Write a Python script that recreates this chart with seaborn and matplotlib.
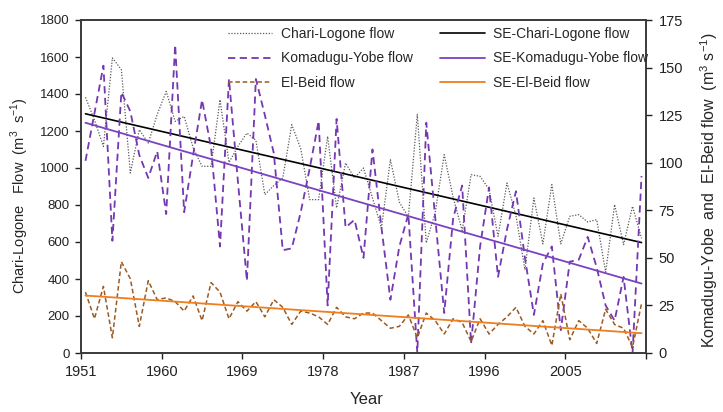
import numpy as np
import matplotlib
matplotlib.use("Agg")
import matplotlib.pyplot as plt
import seaborn as sns

sns.set_style("white")
plt.rcParams["font.family"] = ["Liberation Sans", "DejaVu Sans"]
plt.rcParams["mathtext.fontset"] = "custom"
plt.rcParams["mathtext.rm"] = "Liberation Sans"

# DATA

years = np.arange(1951, 2014)

chari_logone = [1382, 1260, 1117, 1595, 1532, 973, 1207, 1135, 1290, 1414,
                1252, 1279, 1110, 1009, 1009, 1369, 1030, 1117, 1189, 1150,
                856, 905, 946, 1234, 1105, 829, 829, 1171, 784, 1027,
                946, 1000, 838, 676, 1045, 815, 735, 1290, 595, 760,
                1072, 840, 662, 964, 955, 885, 631, 919, 742, 450,
                838, 590, 910, 590, 739, 748, 708, 721, 437, 802,
                586, 793, 620]

komadugu_yobe = [101, 126, 151, 59, 137, 127, 104, 92, 106, 73,
                 162, 74, 104, 133, 108, 56, 144, 90, 38, 144,
                 125, 105, 54, 55, 74, 97, 122, 25, 123, 66,
                 70, 50, 107, 66, 28, 56, 73, 0, 121, 71,
                 21, 71, 88, 5, 56, 87, 40, 65, 85, 50,
                 20, 47, 56, 12, 48, 49, 61, 45, 25, 17,
                 40, 0, 93]

el_beid = [32, 18, 35, 8, 48, 39, 14, 38, 28, 29,
           27, 22, 30, 17, 37, 32, 18, 27, 22, 27,
           19, 28, 24, 15, 22, 21, 19, 15, 24, 19,
           18, 21, 21, 17, 13, 14, 20, 8, 21, 17,
           10, 18, 16, 6, 18, 10, 15, 19, 24, 14,
           10, 17, 4, 31, 7, 17, 13, 5, 23, 15,
           13, 3, 26]

# trend lines (start / end values)
trend_years = [1951, 2013]
se_chari = [1293, 597]
se_komadugu = [121, 36.5]
se_elbeid = [30.2, 10.4]

tick_years = ["1951", "1960", "1969", "1978", "1987", "1996", "2005", ""]

# colours
c_chari = "#5a5a5a"
c_kom = "#7438B0"
c_kom_se = "#7A42C2"
c_elb = "#9A5A22"
c_elb_se = "#F07D1E"

fig = plt.figure(figsize=(7.23, 4.12), dpi=100)
ax = fig.add_axes([81 / 723, 1 - 353 / 412, 565 / 723, 333 / 412])
ax2 = ax.twinx()

# left axis: Chari-Logone
sns.lineplot(x=years, y=chari_logone, ax=ax, color=c_chari, lw=0.9,
             label="Chari-Logone flow", legend=False)
ax.lines[-1].set_dashes((1, 1.3))
sns.lineplot(x=trend_years, y=se_chari, ax=ax, color="black", lw=1.2,
             label="SE-Chari-Logone flow", legend=False)

# right axis: Komadugu-Yobe and El-Beid
sns.lineplot(x=years, y=komadugu_yobe, ax=ax2, color=c_kom, lw=1.3,
             label="Komadugu-Yobe flow", legend=False)
ax2.lines[-1].set_dashes((4, 2.5))
sns.lineplot(x=years, y=el_beid, ax=ax2, color=c_elb, lw=1.1,
             label="El-Beid flow", legend=False)
ax2.lines[-1].set_dashes((3, 1.8))
sns.lineplot(x=trend_years, y=se_komadugu, ax=ax2, color=c_kom_se, lw=1.3,
             label="SE-Komadugu-Yobe flow", legend=False)
sns.lineplot(x=trend_years, y=se_elbeid, ax=ax2, color=c_elb_se, lw=1.3,
             label="SE-El-Beid flow", legend=False)

# axes
ax.set_xlim(1950.5, 2013.5)
ax.set_xticks(np.arange(1950.5, 2014, 9))
ax.set_xticklabels(tick_years)
ax.set_ylim(0, 1800)
ax.set_yticks(np.arange(0, 1801, 200))
ax2.set_ylim(0, 175)
ax2.set_yticks(np.arange(0, 176, 25))

for a in (ax, ax2):
    for sp in a.spines.values():
        sp.set_color("#3a3a3a")
        sp.set_linewidth(1.2)
ax.tick_params(axis="x", direction="out", length=4, width=1, pad=5,
               labelsize=10.5, bottom=True, colors="#222222")
ax.tick_params(axis="y", direction="out", length=4, width=1, pad=4,
               labelsize=9.5, left=True, colors="#222222")
ax2.tick_params(axis="y", direction="out", length=4, width=1, pad=5,
                labelsize=10.5, right=True, colors="#222222")

ax.set_xlabel("Year", fontsize=12)
ax.xaxis.set_label_coords(0.506, -0.118)
ax.set_ylabel(r"Chari-Logone   Flow  (m$^{3}$  s$^{-1}$)", fontsize=10.5)
ax.yaxis.set_label_coords(-0.088, 0.474)
ax2.set_ylabel(r"Komadugu-Yobe  and  El-Beid flow  (m$^{3}$ s$^{-1}$)",
               fontsize=11.5)
ax2.yaxis.set_label_coords(1.093, 0.49)

# legend
h1, l1 = ax.get_legend_handles_labels()
h2, l2 = ax2.get_legend_handles_labels()
handles = [h1[0], h2[0], h2[1], h1[1], h2[2], h2[3]]
labels = [l1[0], l2[0], l2[1], l1[1], l2[2], l2[3]]
ax2.legend(handles, labels, ncol=2, frameon=False, fontsize=10,
           loc="upper left", bbox_to_anchor=(228 / 723, 1 - 27 / 412),
           bbox_transform=fig.transFigure, borderaxespad=0, borderpad=0,
           handlelength=3.2, handletextpad=0.6, columnspacing=2.0,
           labelspacing=0.75)

fig.savefig("out.png", dpi=100)
